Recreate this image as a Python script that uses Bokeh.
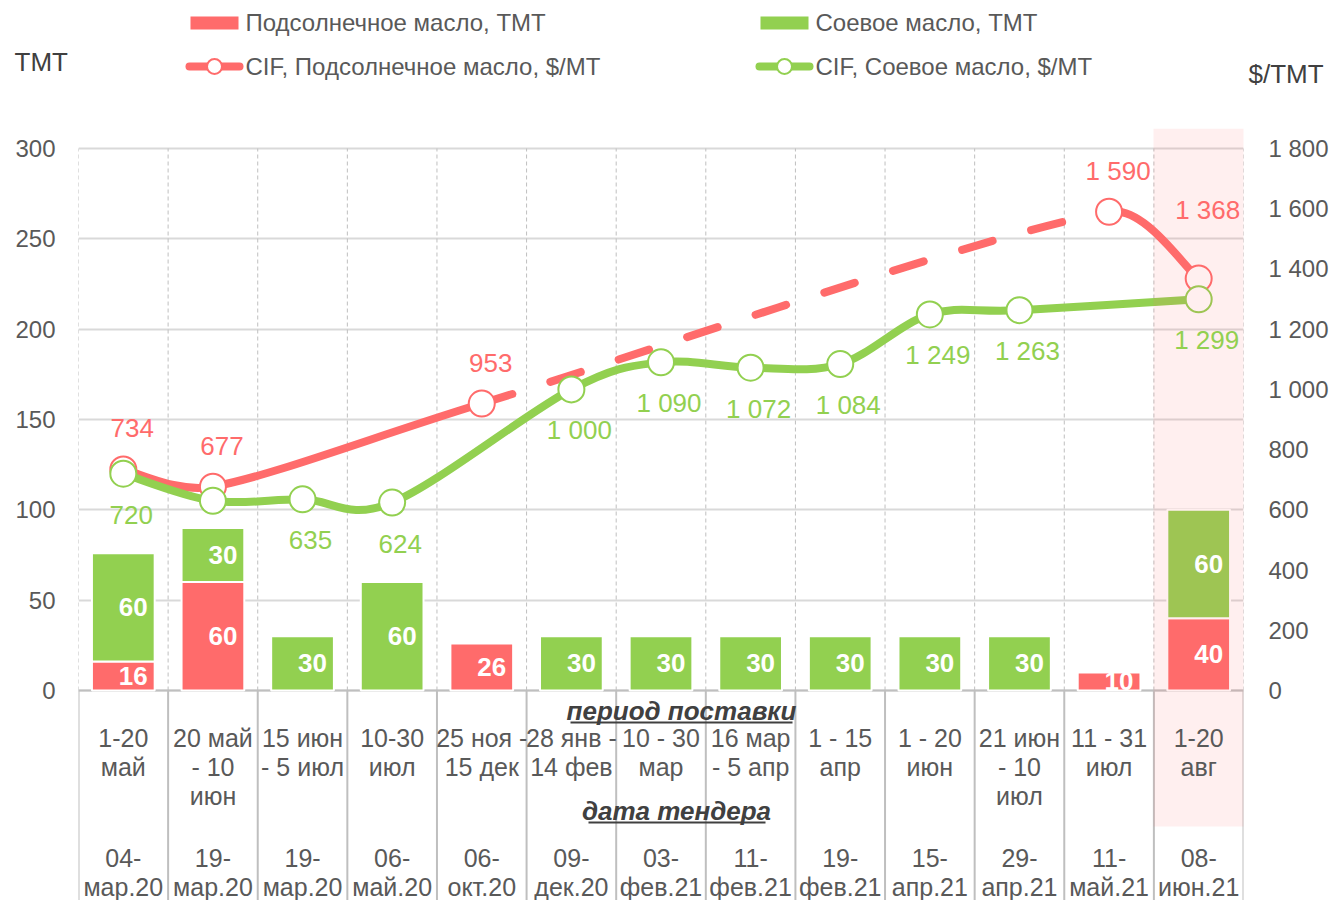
import numpy as np
from bokeh.plotting import figure
from bokeh.layouts import column
from bokeh.models import Range1d, LinearAxis, FixedTicker, CustomJSTickFormatter
from bokeh.core.properties import value
from bokeh.embed import file_html
from bokeh.resources import INLINE

# ---------------- data ----------------
periods = ["1-20\nмай", "20 май\n- 10\nиюн", "15 июн\n- 5 июл", "10-30\nиюл",
           "25 ноя -\n15 дек", "28 янв -\n14 фев", "10 - 30\nмар", "16 мар\n- 5 апр",
           "1 - 15\nапр", "1 - 20\nиюн", "21 июн\n- 10\nиюл", "11 - 31\nиюл", "1-20\nавг"]
tender_dates = ["04-\nмар.20", "19-\nмар.20", "19-\nмар.20", "06-\nмай.20", "06-\nокт.20",
                "09-\nдек.20", "03-\nфев.21", "11-\nфев.21", "19-\nфев.21", "15-\nапр.21",
                "29-\nапр.21", "11-\nмай.21", "08-\nиюн.21"]
sun_tmt = [16, 60, 0, 0, 26, 0, 0, 0, 0, 0, 0, 10, 40]
soy_tmt = [60, 30, 30, 60, 0, 30, 30, 30, 30, 30, 30, 0, 60]
sun_cif = [734, 677, None, None, 953, None, None, None, None, None, None, 1590, 1368]
soy_cif = [720, 630, 635, 624, None, 1000, 1090, 1072, 1084, 1249, 1263, None, 1299]
soy_cif_shown = [True, False, True, True, False, True, True, True, True, True, True, False, True]
left_ticks = [0, 50, 100, 150, 200, 250, 300]
right_ticks = [0, 200, 400, 600, 800, 1000, 1200, 1400, 1600, 1800]
legend_names = ["Подсолнечное масло, ТМТ", "Соевое масло, ТМТ",
                "CIF, Подсолнечное масло, $/МТ", "CIF, Соевое масло, $/МТ"]
left_title = "ТМТ"
right_title = "$/ТМТ"
header_period = "период поставки"
header_tender = "дата тендера"

# ---------------- style ----------------
RED = "#FF6B6B"
GREEN = "#92D050"
GRAY = "#595959"
DARK = "#404040"
GRID = "#D9D9D9"
AXC = "#BFBFBF"
FONT = "Liberation Sans"

W = 1335
HEAD_H = 128
MAIN_H = 900 - HEAD_H
FL, FR = 78, 1243                        # frame edges (page px)
FT, FB = HEAD_H, 900
Y0, Y300 = 690, 148                      # page px of value 0 and 300
XU = (FR - FL) / 13.0
PXU = (Y0 - Y300) / 300.0
PXP = (Y0 - Y300) / 1800.0


def dx(sx):
    return 0.5 + (sx - FL) / XU


def dy(sy):
    return (Y0 - sy) / PXU


def dp(sy):
    return (Y0 - sy) / PXP


def fmt(v):
    return f"{v:,}".replace(",", " ")


def smooth(xs, ys):
    """Catmull-Rom style bezier segments; tangents limited so the curve
    does not overshoot a short segment next to a long one."""
    n = len(xs)
    out = []

    def tangent(i):
        if i == 0:
            return (xs[1] - xs[0]) / 6.0, (ys[1] - ys[0]) / 6.0
        if i == n - 1:
            return (xs[-1] - xs[-2]) / 6.0, (ys[-1] - ys[-2]) / 6.0
        return (xs[i + 1] - xs[i - 1]) / 6.0, (ys[i + 1] - ys[i - 1]) / 6.0

    for i in range(n - 1):
        w = xs[i + 1] - xs[i]
        t0x, t0y = tangent(i)
        t1x, t1y = tangent(i + 1)
        if t0x > 0.5 * w:
            f = 0.4 * w / t0x
            t0x, t0y = t0x * f, t0y * f
        if t1x > 0.5 * w:
            f = 0.4 * w / t1x
            t1x, t1y = t1x * f, t1y * f
        out.append(dict(x0=xs[i], y0=ys[i], x1=xs[i + 1], y1=ys[i + 1],
                        cx0=xs[i] + t0x, cy0=ys[i] + t0y,
                        cx1=xs[i + 1] - t1x, cy1=ys[i + 1] - t1y))
    return out


cats = list(range(1, 14))

# ================= header (legend + axis titles) =================
head = figure(width=W, height=HEAD_H, output_backend="svg", toolbar_location=None,
              x_axis_location=None, y_axis_location=None,
              x_range=Range1d(0, W), y_range=Range1d(HEAD_H, 0),
              min_border_left=0, min_border_right=0, min_border_top=0, min_border_bottom=0)
head.frame_align = False
head.outline_line_color = None
head.grid.visible = False
head.rect(x=[214, 784], y=[22.5, 22.5], width=48, height=13,
          fill_color=[RED, GREEN], line_color=None)
head.segment(x0=[189, 759], y0=[66, 66], x1=[239, 809], y1=[66, 66],
             line_color=[RED, GREEN], line_width=8, line_cap="round")
head.scatter(x=[214, 784], y=[66, 66], size=15, marker="circle",
             fill_color="white", line_color=[RED, GREEN], line_width=2)
head.text(x=[245, 815, 245, 815], y=[22, 22, 66, 66], text=legend_names,
          text_font=value(FONT), text_font_size="24px", text_color=GRAY,
          text_align="left", text_baseline="middle")
head.text(x=[14, 1248], y=[61, 73], text=[left_title, right_title],
          text_font=value(FONT), text_font_size="26px", text_color=DARK,
          text_align="left", text_baseline="middle")

# ================= main chart =================
p = figure(width=W, height=MAIN_H, output_backend="svg", toolbar_location=None,
           x_axis_location=None,
           x_range=Range1d(0.5, 13.5), y_range=Range1d(dy(FB), dy(FT)),
           min_border_left=FL, min_border_right=W - FR,
           min_border_top=0, min_border_bottom=0)
p.frame_align = False
p.extra_y_ranges = {"price": Range1d(dp(FB), dp(FT))}
p.outline_line_color = None
p.background_fill_color = "white"
p.border_fill_color = "white"
for g in p.xgrid:
    g.visible = False

ya = p.yaxis[0]
ya.ticker = FixedTicker(ticks=left_ticks)
ya.axis_line_color = None
ya.major_tick_line_color = None
ya.minor_tick_line_color = None
ya.major_tick_out = 0
ya.major_tick_in = 0
ya.major_label_standoff = 23
ya.major_label_text_font = FONT
ya.major_label_text_font_size = "24px"
ya.major_label_text_color = GRAY
p.ygrid.grid_line_color = GRID
p.ygrid.grid_line_width = 2

ra = LinearAxis(y_range_name="price", ticker=FixedTicker(ticks=right_ticks),
                formatter=CustomJSTickFormatter(code=r'return tick.toFixed(0).replace(/\B(?=(\d{3})+(?!\d))/g, " ");'))
ra.axis_line_color = None
ra.major_tick_line_color = None
ra.minor_tick_line_color = None
ra.major_tick_out = 0
ra.major_tick_in = 0
ra.major_label_standoff = 25
ra.major_label_text_font = FONT
ra.major_label_text_font_size = "24px"
ra.major_label_text_color = GRAY
p.add_layout(ra, "right")

# vertical grid (dashed in plot area, solid in table)
bounds = [c - 0.5 for c in cats] + [13.5]
p.segment(x0=bounds, y0=[0] * len(bounds), x1=bounds, y1=[300] * len(bounds),
          line_color=AXC, line_width=1, line_dash="4 3")
p.segment(x0=bounds, y0=[0] * len(bounds), x1=bounds, y1=[dy(FB)] * len(bounds),
          line_color=AXC, line_width=2)
p.segment(x0=[0.5], y0=[0], x1=[13.5], y1=[0], line_color=AXC, line_width=2)

# stacked bars
sx = [c for c, v in zip(cats, sun_tmt) if v > 0]
sv = [v for v in sun_tmt if v > 0]
p.vbar(x=sx, bottom=0, top=sv, width=0.7, fill_color=RED, line_color="white", line_width=2)
gx = [c for c, v in zip(cats, soy_tmt) if v > 0]
gb = [s for s, v in zip(sun_tmt, soy_tmt) if v > 0]
gt = [s + v for s, v in zip(sun_tmt, soy_tmt) if v > 0]
p.vbar(x=gx, bottom=gb, top=gt, width=0.7, fill_color=GREEN, line_color="white", line_width=2)

# sunflower CIF line
sun_x = [c for c, v in zip(cats, sun_cif) if v is not None]
sun_y = [v for v in sun_cif if v is not None]
segs = smooth(sun_x, sun_y)
DASHED_SEG = 2
for i, s in enumerate(segs):
    p.bezier(x0=[s["x0"]], y0=[s["y0"]], x1=[s["x1"]], y1=[s["y1"]],
             cx0=[s["cx0"]], cy0=[s["cy0"]], cx1=[s["cx1"]], cy1=[s["cy1"]],
             y_range_name="price", line_color=RED, line_width=8, line_cap="round",
             line_dash=("32 40" if i == DASHED_SEG else "solid"))
p.scatter(sun_x, sun_y, y_range_name="price", size=26, marker="circle",
          fill_color="white", line_color=RED, line_width=2)

# soybean CIF line
soy_x = [c for c, v in zip(cats, soy_cif) if v is not None]
soy_y = [v for v in soy_cif if v is not None]
segs = smooth(soy_x, soy_y)
p.bezier(x0=[s["x0"] for s in segs], y0=[s["y0"] for s in segs],
         x1=[s["x1"] for s in segs], y1=[s["y1"] for s in segs],
         cx0=[s["cx0"] for s in segs], cy0=[s["cy0"] for s in segs],
         cx1=[s["cx1"] for s in segs], cy1=[s["cy1"] for s in segs],
         y_range_name="price", line_color=GREEN, line_width=8, line_cap="round")
p.scatter(soy_x, soy_y, y_range_name="price", size=26, marker="circle",
          fill_color="white", line_color=GREEN, line_width=2)

# highlight band for the latest tender
p.quad(left=[dx(1153)], right=[dx(1248)], bottom=[dy(826)], top=[dy(128)],
       fill_color=RED, fill_alpha=0.11, line_color=None)

# bar labels
p.text(x=sx, y=[v / 2 for v in sv], text=[str(v) for v in sv], x_offset=10,
       text_font=value(FONT), text_font_size="26px", text_font_style="bold",
       text_color="white", text_align="center", text_baseline="middle")
p.text(x=gx, y=[b + (t - b) / 2 for b, t in zip(gb, gt)], text=[str(t - b) for b, t in zip(gb, gt)],
       x_offset=10, text_font=value(FONT), text_font_size="26px", text_font_style="bold",
       text_color="white", text_align="center", text_baseline="middle")

# CIF labels
sun_off = [-41] * (len(sun_x) - 1) + [-69]
p.text(x=sun_x, y=sun_y, text=[fmt(v) for v in sun_y], y_range_name="price",
       x_offset=9, y_offset=sun_off, text_font=value(FONT), text_font_size="26px",
       text_color=RED, text_align="center", text_baseline="middle")
lx = [c for c, v, s in zip(cats, soy_cif, soy_cif_shown) if v is not None and s]
ly = [v for v, s in zip(soy_cif, soy_cif_shown) if v is not None and s]
p.text(x=lx, y=ly, text=[fmt(v) for v in ly], y_range_name="price",
       x_offset=8, y_offset=41, text_font=value(FONT), text_font_size="26px",
       text_color=GREEN, text_align="center", text_baseline="middle")

# category table
LINE = 29
for k in range(3):
    xs_ = [c for c, t in zip(cats, periods) if len(t.split("\n")) > k]
    ts_ = [t.split("\n")[k] for t in periods if len(t.split("\n")) > k]
    p.text(x=xs_, y=[dy(737 + LINE * k)] * len(xs_), text=ts_, text_font=value(FONT),
           text_font_size="25px", text_color=GRAY, text_align="center", text_baseline="middle")
for k in range(2):
    ts_ = [t.split("\n")[k] for t in tender_dates]
    p.text(x=cats, y=[dy(857 + LINE * k)] * len(cats), text=ts_, text_font=value(FONT),
           text_font_size="25px", text_color=GRAY, text_align="center", text_baseline="middle")
p.text(x=[dx(681), dx(676)], y=[dy(710), dy(810)], text=[header_period, header_tender],
       text_font=value(FONT), text_font_size="26px", text_font_style="bold italic",
       text_color=DARK, text_align="center", text_baseline="middle")
p.segment(x0=[dx(570), dx(588)], y0=[dy(722), dy(822)], x1=[dx(792), dx(765)], y1=[dy(722), dy(822)],
          line_color=DARK, line_width=2)

layout = column(head, p, spacing=0)
open("out.html", "w").write(file_html(layout, INLINE))
